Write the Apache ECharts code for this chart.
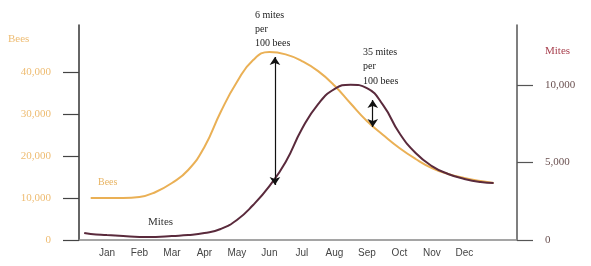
<!DOCTYPE html>
<html>
<head>
<meta charset="utf-8">
<script src="https://cdn.jsdelivr.net/npm/echarts@6/dist/echarts.min.js"></script>
<style>
  html, body { margin: 0; padding: 0; background: #fff; }
  #chart { width: 591px; height: 266px; }
</style>
</head>
<body>
<div id="chart"></div>
<script>
// month labels on the x axis (x values are month index, Jan = 0)
const months = ['Jan', 'Feb', 'Mar', 'Apr', 'May', 'Jun', 'Jul', 'Aug', 'Sep', 'Oct', 'Nov', 'Dec'];

// bee colony size over the year: [month index, bees]
const beesData = [
  [-0.5, 10000], [0, 10000], [0.5, 10000], [1, 10240], [1.5, 11430],
  [2, 13570], [2.5, 16670], [3, 22140], [3.5, 30480], [4, 37620],
  [4.5, 42860], [5, 44760], [5.5, 44200], [6, 42600], [6.5, 40200],
  [7, 36800], [7.5, 32500], [8, 28330], [8.5, 25000], [9, 21900],
  [9.5, 19290], [10, 17140], [10.5, 15710], [11, 14760], [11.5, 14050],
  [11.9, 13570]
];

// mite population over the year: [month index, mites]
const mitesData = [
  [-0.7, 450], [-0.5, 390], [0, 320], [0.5, 260], [1, 190], [1.5, 190],
  [2, 260], [2.5, 320], [3, 450], [3.5, 710], [4, 1290], [4.5, 2260],
  [5, 3480], [5.5, 5030], [6, 7160], [6.5, 8770], [7, 9740], [7.5, 10020],
  [8, 9800], [8.5, 8700], [9, 6900], [9.5, 5610], [10, 4770], [10.5, 4260],
  [11, 3940], [11.5, 3740], [11.9, 3680]
];

// tick labels
const beesTicks = [0, 10000, 20000, 30000, 40000];
const mitesTicks = [0, 5000, 10000];
const monthTicks = [0, 1, 2, 3, 4, 5, 6, 7, 8, 9, 10, 11];

// arrows (in bees units on the left axis)
const arrow1 = [[5.17, 43570], [5.17, 13100]];
const arrow2 = [[8.18, 33330], [8.18, 26900]];

const fmt = (v) => v.toLocaleString('en-US');
const serif = '"Liberation Serif", "DejaVu Serif", serif';

const chart = echarts.init(document.getElementById('chart'), null, { renderer: 'canvas' });

const option = {
  animation: false,
  backgroundColor: '#fff',
  grid: { left: 79, right: 74, top: 25, bottom: 26 },
  xAxis: {
    type: 'value',
    min: -0.86,
    max: 12.62,
    splitLine: { show: false },
    axisLine: { show: true, onZero: false, lineStyle: { color: '#888', width: 1.5 } },
    axisTick: { show: false },
    axisLabel: {
      customValues: monthTicks,
      formatter: (v) => months[v],
      color: '#444',
      fontFamily: '"Liberation Sans", Arial, sans-serif',
      fontSize: 10,
      margin: 8
    }
  },
  yAxis: [
    {
      type: 'value',
      position: 'left',
      min: 0,
      max: 51190,
      splitLine: { show: false },
      axisLine: { show: true, onZero: false, lineStyle: { color: '#333', width: 1.5 } },
      axisTick: { show: true, customValues: beesTicks, length: 16, lineStyle: { color: '#444', width: 1.2 } },
      axisLabel: {
        customValues: beesTicks,
        formatter: fmt,
        color: '#eebc72',
        fontFamily: serif,
        fontSize: 11,
        margin: 28
      }
    },
    {
      type: 'value',
      position: 'right',
      min: 0,
      max: 13871,
      splitLine: { show: false },
      axisLine: { show: true, onZero: false, lineStyle: { color: '#555', width: 1.5 } },
      axisTick: { show: true, customValues: mitesTicks, length: 16, lineStyle: { color: '#555', width: 1.2 } },
      axisLabel: {
        customValues: mitesTicks,
        formatter: fmt,
        color: '#6a5050',
        fontFamily: serif,
        fontSize: 11,
        margin: 28
      }
    }
  ],
  series: [
    {
      name: 'Bees',
      type: 'line',
      yAxisIndex: 0,
      data: beesData,
      smooth: 0.5,
      showSymbol: false,
      lineStyle: { color: '#eab055', width: 2 },
      markLine: {
        silent: true,
        symbol: ['arrow', 'arrow'],
        symbolSize: 8,
        label: { show: false },
        lineStyle: { color: '#111', width: 1.2, type: 'solid' },
        data: [
          [{ coord: arrow1[0] }, { coord: arrow1[1] }],
          [{ coord: arrow2[0] }, { coord: arrow2[1] }]
        ]
      }
    },
    {
      name: 'Mites',
      type: 'line',
      yAxisIndex: 1,
      data: mitesData,
      smooth: 0.5,
      showSymbol: false,
      lineStyle: { color: '#5a2a3c', width: 2 }
    }
  ],
  graphic: [
    { type: 'text', left: 8, top: 34, style: { text: 'Bees', fill: '#eebc72', font: '11px ' + serif } },
    { type: 'text', left: 545, top: 46, style: { text: 'Mites', fill: '#a8404e', font: '11px ' + serif } },
    { type: 'text', left: 98, top: 177, style: { text: 'Bees', fill: '#e8b463', font: '10px ' + serif } },
    { type: 'text', left: 148, top: 217, style: { text: 'Mites', fill: '#333', font: '11px ' + serif } },
    { type: 'text', left: 255, top: 8, style: { text: '6 mites\nper\n100 bees', fill: '#222', font: '10px ' + serif, lineHeight: 14 } },
    { type: 'text', left: 363, top: 45, style: { text: '35 mites\nper\n100 bees', fill: '#222', font: '10px ' + serif, lineHeight: 14.5 } }
  ]
};

chart.setOption(option);
</script>
</body>
</html>
